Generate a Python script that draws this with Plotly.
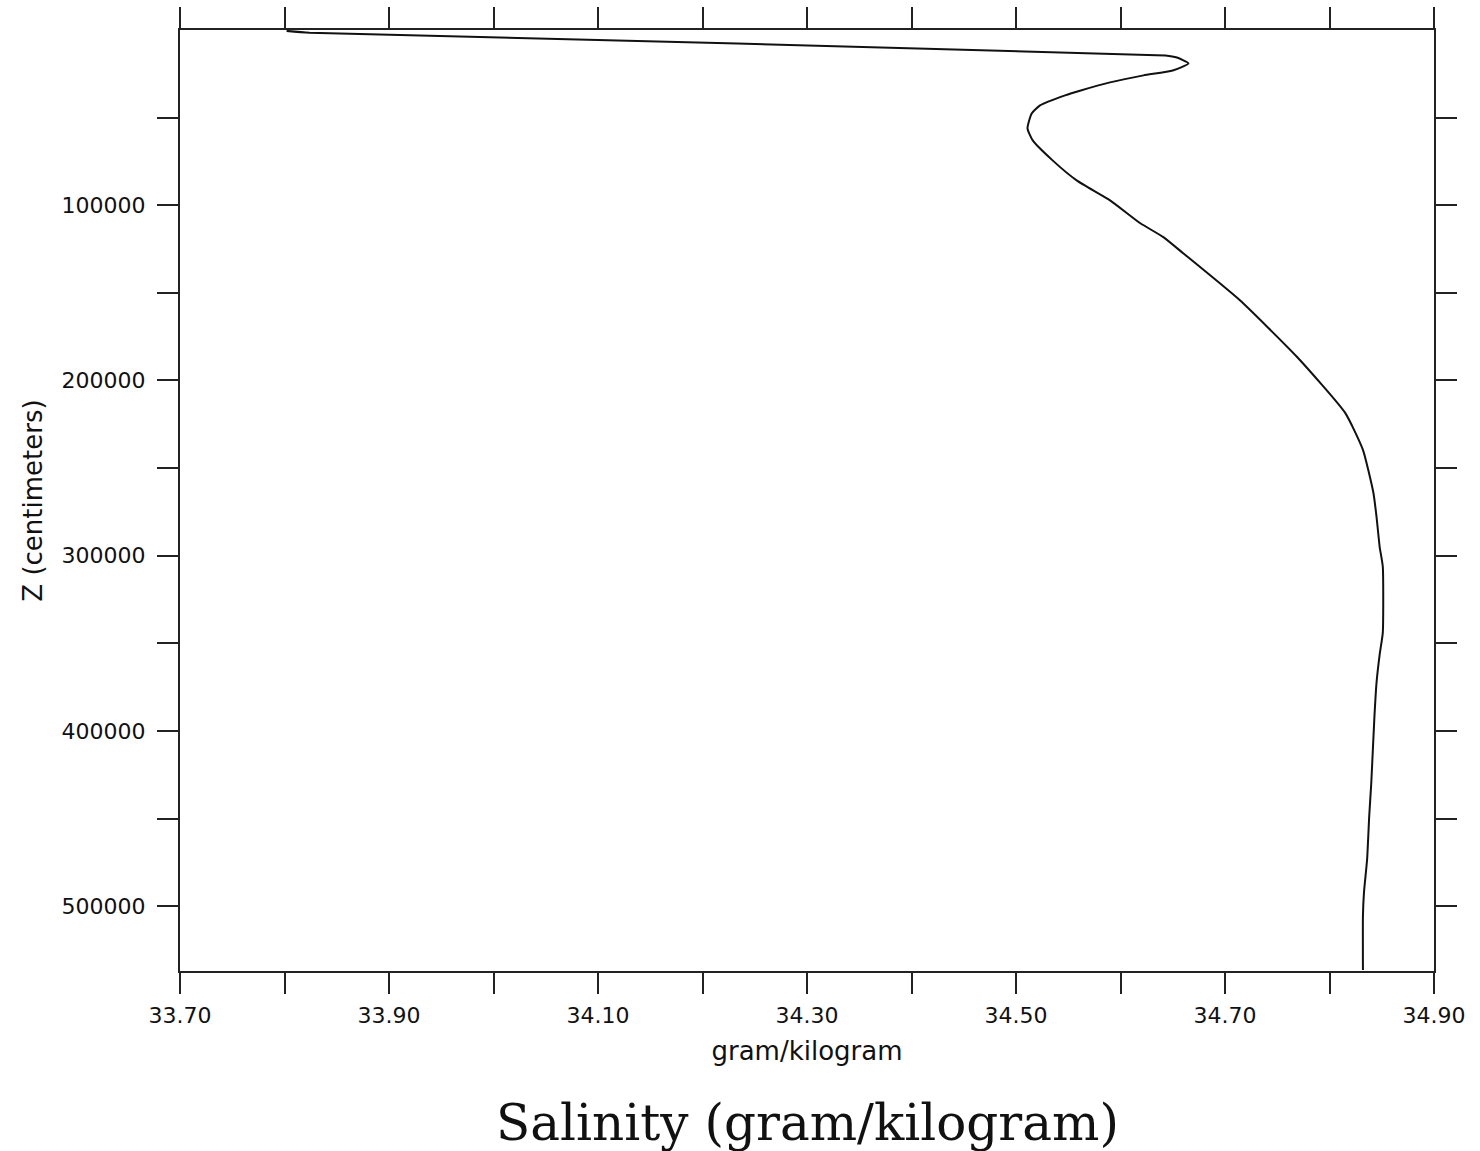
import plotly.graph_objects as go

# Salinity profile (gram/kilogram) vs depth Z (centimeters)
depth_cm = [500, 1500, 14500, 15700, 19100, 23100, 25900, 29900, 34500, 37300,
            43000, 47600, 56100, 63000, 74400, 85800, 97200, 110300, 118200, 127400,
            154100, 186600, 218500, 239600, 264100, 277800, 294900, 306300, 343900,
            356400, 372400, 391700, 429400, 448700, 473200, 492000, 505700, 536500]
salinity = [33.802, 33.824, 34.643, 34.654, 34.665, 34.650, 34.622, 34.590, 34.562, 34.547,
            34.523, 34.515, 34.511, 34.516, 34.535, 34.558, 34.590, 34.619, 34.641, 34.660,
            34.714, 34.769, 34.815, 34.832, 34.842, 34.845, 34.848, 34.851, 34.851,
            34.848, 34.845, 34.843, 34.840, 34.838, 34.836, 34.833, 34.832, 34.832]

x_ticks = [33.7, 33.8, 33.9, 34.0, 34.1, 34.2, 34.3, 34.4, 34.5, 34.6, 34.7, 34.8, 34.9]
x_labels = ["33.70", "", "33.90", "", "34.10", "", "34.30", "", "34.50", "", "34.70", "", "34.90"]
y_ticks = [50000, 100000, 150000, 200000, 250000, 300000, 350000, 400000, 450000, 500000]
y_labels = ["", "100000", "", "200000", "", "300000", "", "400000", "", "500000"]

fig = go.Figure()
fig.add_trace(go.Scatter(x=salinity, y=depth_cm, mode="lines", line_shape="spline",
                         line=dict(color="#111111", width=2, smoothing=0.5),
                         showlegend=False, hoverinfo="skip"))

tick_font = dict(family="DejaVu Sans", size=22, color="#111111")
title_font = dict(family="DejaVu Sans", size=26, color="#111111")

fig.update_layout(
    width=1480, height=1151,
    margin=dict(l=180, r=46, t=30, b=180, autoexpand=False),
    paper_bgcolor="white", plot_bgcolor="white",
    xaxis=dict(range=[33.7, 34.9], tickvals=x_ticks, ticktext=x_labels,
               ticks="outside", ticklen=21, tickwidth=2, tickcolor="#222",
               showline=True, linewidth=2, linecolor="#222", mirror="ticks",
               showgrid=False, zeroline=False, tickfont=tick_font,
               ticklabelstandoff=3, automargin=False,
               title=dict(text="gram/kilogram", font=title_font, standoff=14)),
    yaxis=dict(range=[537000, 0], tickvals=y_ticks, ticktext=y_labels,
               ticks="outside", ticklen=21, tickwidth=2, tickcolor="#222",
               showline=True, linewidth=2, linecolor="#222", mirror="ticks",
               showgrid=False, zeroline=False, tickfont=tick_font,
               ticklabelstandoff=7, automargin=False,
               title=dict(text="Z (centimeters)", font=title_font, standoff=12)),
)

fig.add_annotation(text="Salinity (gram/kilogram)", xref="paper", yref="paper",
                   x=0.5, y=-0.161, xanchor="center", yanchor="middle",
                   showarrow=False,
                   font=dict(family="DejaVu Serif", size=50, color="#111111"))

fig.write_html("out.html")
